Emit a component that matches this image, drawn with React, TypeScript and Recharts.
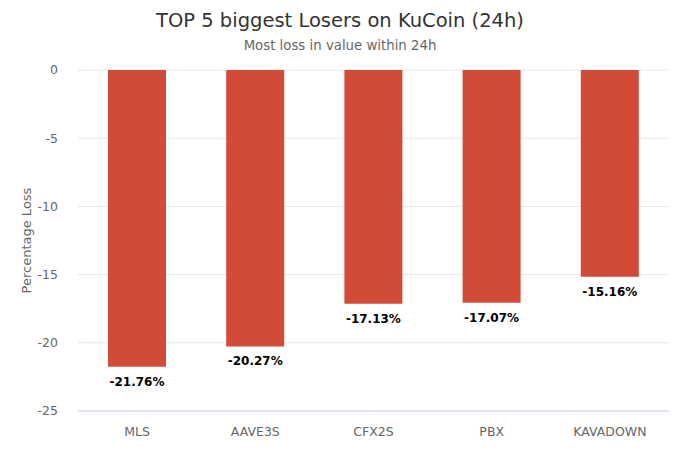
import React from 'react';
import { BarChart, Bar, XAxis, YAxis, CartesianGrid, LabelList } from 'recharts';

const coins = ['MLS', 'AAVE3S', 'CFX2S', 'PBX', 'KAVADOWN'];
const losses = [-21.76, -20.27, -17.13, -17.07, -15.16];
const yTicks = [0, -5, -10, -15, -20, -25];

const data = coins.map((name, i) => ({ name, loss: losses[i] }));

const FONT = '"DejaVu Sans", sans-serif';

const ValueLabel = (props: any) => {
  const { x, y, width, height, value } = props;
  const bottom = Math.max(y, y + height);
  return (
    <text
      x={x + width / 2}
      y={bottom + 19}
      textAnchor="middle"
      fontFamily={FONT}
      fontSize={12}
      fontWeight="bold"
      fill="#000"
    >
      {`${value.toFixed(2)}%`}
    </text>
  );
};

export default function App() {
  return (
    <div style={{ position: 'absolute', left: 0, top: 0, width: 680, height: 453, background: '#fff', fontFamily: FONT }}>
      <svg width={680} height={60} style={{ position: 'absolute', left: 0, top: 0 }}>
        <text x={340} y={27} textAnchor="middle" fontFamily={FONT} fontSize={19.5} fill="#333">
          TOP 5 biggest Losers on KuCoin (24h)
        </text>
        <text x={340} y={50} textAnchor="middle" fontFamily={FONT} fontSize={13.3} fill="#666">
          Most loss in value within 24h
        </text>
      </svg>
      <div style={{ position: 'absolute', left: 0, top: 0 }}>
        <BarChart
          width={680}
          height={453}
          data={data}
          margin={{ top: 70, right: 11, bottom: 0, left: 0 }}
          barCategoryGap={30}
        >
          <CartesianGrid vertical={false} stroke="#e6e6e6" />
          <XAxis
            dataKey="name"
            axisLine={{ stroke: '#ccd6eb' }}
            tickLine={false}
            tick={{ fill: '#666', fontSize: 12.5, fontFamily: FONT }}
            tickMargin={10}
            height={42}
          />
          <YAxis
            domain={[-25, 0]}
            ticks={yTicks}
            axisLine={false}
            tickLine={false}
            width={78}
            tick={{ fill: '#666', fontSize: 12.5, fontFamily: FONT }}
            tickMargin={14}
            label={{
              value: 'Percentage Loss',
              angle: -90,
              position: 'insideLeft',
              offset: 26,
              style: { textAnchor: 'middle', fill: '#666', fontSize: 13, fontFamily: FONT },
            }}
          />
          <Bar dataKey="loss" fill="#d24a38" isAnimationActive={false}>
            <LabelList dataKey="loss" content={ValueLabel} />
          </Bar>
        </BarChart>
      </div>
    </div>
  );
}
